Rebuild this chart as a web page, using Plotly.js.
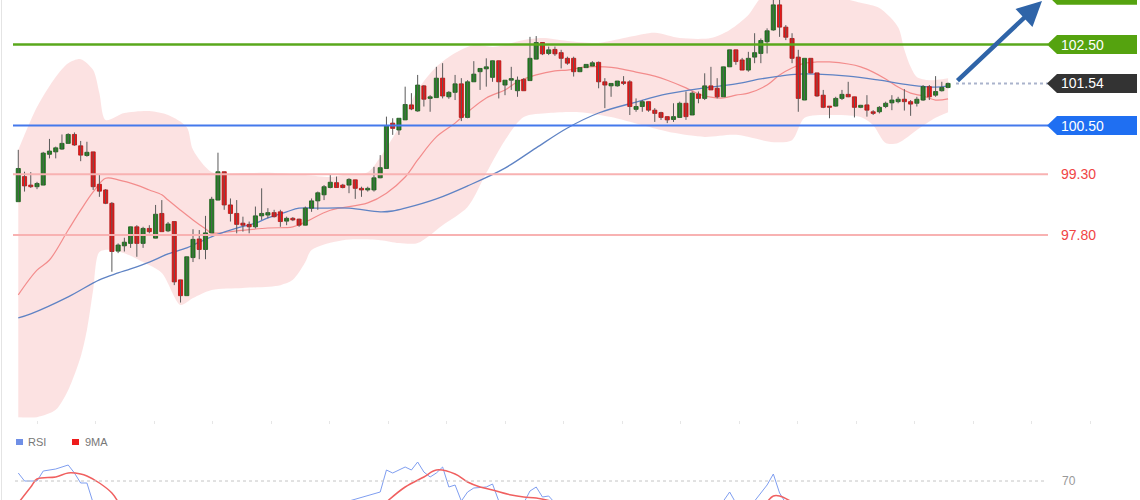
<!DOCTYPE html>
<html><head><meta charset="utf-8">
<script src="https://cdn.plot.ly/plotly-3.0.1.min.js"></script>
<style>html,body{margin:0;padding:0;background:#fff}#chart{width:1140px;height:500px}</style>
</head><body><div id="chart"></div>
<script>
// ---- candle data (price) ----
const openP = [98.62,99.24,99.03,98.99,99.03,99.79,99.85,99.92,100.06,100.28,
100.00,99.76,99.85,99.05,98.91,98.58,97.40,97.53,97.59,98.00,
97.59,97.96,97.72,98.33,97.90,98.13,96.69,96.30,97.24,97.70,
97.44,97.85,98.66,99.36,98.54,98.33,98.09,98.06,98.00,98.27,
98.29,98.35,98.37,98.14,98.21,98.19,98.04,98.46,98.64,98.79,
98.97,99.09,99.03,99.03,99.16,98.95,98.91,98.91,99.21,99.44,
100.56,100.39,100.64,101.01,100.86,101.48,101.17,101.19,101.67,101.21,
101.32,101.53,100.70,101.58,101.83,101.90,101.69,102.10,101.50,101.62,
101.36,101.64,101.61,102.14,102.55,102.28,102.38,102.30,102.16,102.16,
101.83,101.93,101.97,102.06,101.58,101.48,101.48,101.58,101.58,100.90,
100.97,101.09,100.88,100.82,100.72,100.65,100.70,101.05,100.76,101.28,
101.17,101.48,101.42,101.21,101.95,102.37,102.12,101.87,102.19,102.28,
102.57,102.86,103.48,102.93,102.65,102.19,101.13,102.16,101.80,101.25,
100.98,100.98,101.17,101.27,101.21,100.95,101.01,100.84,100.84,100.97,
101.06,101.09,101.15,101.09,101.05,101.13,101.46,101.25,101.36,101.44];
const highP = [99.90,99.36,99.35,99.11,99.85,100.17,99.98,100.28,100.31,100.33,
100.12,100.10,99.85,99.28,98.93,98.61,97.59,97.73,98.00,98.04,
98.00,98.04,98.54,98.66,98.12,98.13,96.69,97.26,97.94,97.92,
98.27,98.74,99.83,99.36,98.70,98.66,98.25,98.13,98.50,98.95,
98.46,98.42,98.42,98.25,98.24,98.20,98.50,98.70,98.87,99.03,
99.28,99.24,99.06,99.20,99.16,98.99,98.99,99.48,99.77,100.72,
100.68,100.68,101.46,101.30,101.75,101.50,101.25,101.95,102.04,101.35,
101.75,101.67,101.62,102.09,101.91,102.16,102.10,102.10,101.62,101.95,
101.71,101.67,102.69,102.71,102.55,102.45,102.45,102.37,102.20,102.20,
101.93,102.01,102.09,102.08,101.67,101.54,101.60,101.72,101.62,101.17,
101.13,101.09,100.93,100.84,100.72,101.05,101.09,101.34,101.34,101.34,
101.79,101.95,101.67,101.95,102.37,102.37,102.17,102.32,102.78,102.65,
102.90,103.66,103.62,102.98,102.78,102.37,102.16,102.16,101.80,101.38,
100.98,101.21,101.38,101.58,101.21,101.01,101.25,100.88,100.98,101.09,
101.25,101.21,101.40,101.13,101.21,101.50,101.50,101.72,101.58,101.56];
const lowP = [98.62,98.87,98.96,98.93,99.03,99.69,99.69,99.90,100.06,100.00,
99.62,99.73,98.91,98.74,98.56,96.89,97.35,97.39,97.48,97.26,
97.48,97.84,97.72,97.88,97.87,96.56,96.13,96.30,97.13,97.20,
97.20,97.85,98.66,98.42,98.13,97.84,97.88,97.84,97.96,98.17,
98.21,98.23,98.00,98.04,98.14,98.00,98.04,98.37,98.42,98.66,
98.95,98.97,98.95,98.83,98.69,98.74,98.87,98.87,99.20,99.44,
100.27,100.27,100.64,100.88,100.84,100.97,100.84,101.19,101.17,101.16,
101.13,100.61,100.68,101.58,101.38,101.46,101.58,101.17,101.25,101.38,
101.21,101.36,101.61,102.14,102.24,102.24,102.22,101.91,102.00,101.71,
101.82,101.92,101.97,101.42,100.93,101.21,101.46,101.50,100.76,100.84,
100.84,100.84,100.59,100.64,100.56,100.59,100.70,100.64,100.76,101.05,
101.13,101.38,101.17,101.21,101.95,102.00,101.87,101.83,102.04,102.04,
102.28,102.84,102.69,102.61,102.04,100.84,101.13,101.79,101.21,100.93,
100.68,100.97,101.13,101.20,100.70,100.93,100.72,100.76,100.80,100.93,
100.88,101.05,100.87,100.74,100.97,101.11,101.13,101.21,101.34,101.42];
const closeP = [99.44,99.01,98.99,99.07,99.82,99.87,99.95,100.06,100.28,100.02,
99.77,99.84,98.99,98.88,98.58,97.39,97.55,97.62,98.00,97.59,
97.96,97.88,98.31,97.88,98.07,96.64,96.30,97.26,97.69,97.44,
97.85,98.68,99.36,98.54,98.33,98.06,98.04,98.00,98.27,98.33,
98.35,98.25,98.13,98.21,98.17,98.04,98.46,98.64,98.84,98.99,
99.10,98.97,98.97,99.17,98.95,98.91,98.95,99.21,99.46,100.50,
100.43,100.68,101.02,100.91,101.50,101.15,101.21,101.67,101.23,101.32,
101.53,100.70,101.58,101.77,101.91,101.95,102.10,101.58,101.62,101.66,
101.62,101.36,102.16,102.55,102.27,102.37,102.27,102.16,102.04,101.83,
101.93,102.01,102.05,101.58,101.50,101.54,101.60,101.54,100.97,100.97,
101.09,100.88,100.80,100.70,100.64,100.72,101.05,100.72,101.30,101.17,
101.48,101.38,101.21,101.95,102.37,102.08,101.87,102.16,102.30,102.60,
102.84,103.48,102.93,102.68,102.16,101.17,102.16,101.80,101.23,100.95,
100.95,101.17,101.27,101.21,100.95,101.00,100.88,100.80,100.95,101.05,
101.13,101.15,101.09,101.03,101.15,101.46,101.21,101.34,101.44,101.54];

// ---- Bollinger bands & moving averages (candle index, price) ----
const bbUpperIdx = [0,3,6,8,10,12,13,14,17,21,24,27,28,31,36,41,46,50,52,56,58,61,64,67,70,73,76,78,81,84,88,93,98,102,106,111,114,117,119,122,125,130,135,138,141,142,143,144,146,149];
const bbUpper = [99.90,100.96,101.70,102.04,102.14,101.87,101.30,100.64,100.81,100.86,100.76,100.46,99.90,99.35,99.33,99.33,99.28,99.23,99.28,99.35,99.72,100.46,101.38,101.95,102.29,102.49,102.44,102.49,102.61,102.66,102.59,102.54,102.69,102.79,102.66,102.66,102.86,103.23,103.65,103.85,103.90,103.72,103.53,103.40,102.93,102.37,101.95,101.70,101.62,101.67];
const bbLowerIdx = [0,3,6,8,10,11,12,13,15,17,20,23,26,28,31,36,42,44,46,47,52,58,61,64,68,72,75,78,81,85,90,95,100,105,110,115,121,124,126,130,135,137,139,141,144,147,149];
const bbLower = [93.30,93.30,93.48,93.97,94.79,95.45,96.44,97.38,97.43,97.35,97.13,96.86,96.07,96.24,96.44,96.49,96.56,96.69,97.13,97.43,97.67,97.67,97.60,97.60,98.04,98.49,99.33,100.14,100.71,100.81,100.83,100.71,100.51,100.32,100.22,100.27,100.09,100.14,100.69,100.76,100.71,100.51,100.07,100.07,100.39,100.69,100.83];
const maRedIdx = [0,3,5,8,10,12,14,16,19,21,23,24,26,28,30,31,35,40,44,46,50,56,59,62,64,67,70,72,75,78,80,83,86,88,91,94,96,99,102,104,107,109,111,113,115,117,120,122,124,126,128,130,133,135,137,139,141,143,145,147,149];
const maRed = [96.32,96.93,97.18,97.92,98.41,98.86,99.20,99.16,99.03,98.91,98.79,98.66,98.41,98.17,97.95,97.85,97.90,97.97,98.00,98.12,98.41,98.59,98.83,99.23,99.65,100.22,100.56,100.83,101.18,101.38,101.58,101.75,101.85,101.87,101.95,101.95,101.92,101.82,101.72,101.62,101.43,101.28,101.20,101.18,101.25,101.30,101.50,101.75,101.92,102.04,102.07,102.07,102.02,101.95,101.82,101.65,101.45,101.30,101.23,101.13,101.16];
const maBlueIdx = [0,2,8,13,16,18,21,24,27,29,32,35,38,40,43,45,48,53,58,60,62,67,72,78,83,88,93,99,104,110,115,119,122,125,128,133,138,143,147,149];
const maBlue = [95.75,95.85,96.27,96.69,96.86,96.96,97.13,97.33,97.48,97.62,97.82,97.97,98.09,98.22,98.37,98.46,98.46,98.46,98.37,98.39,98.46,98.69,99.01,99.45,99.95,100.44,100.81,101.08,101.28,101.43,101.53,101.65,101.72,101.77,101.77,101.72,101.62,101.50,101.45,101.48];

// ---- RSI panel (candle index, value); null = below the visible strip ----
const rsiIdx = [0,1,3,4,6,8,9,10,11,12,13, 52,53,58,59,60,62,63,64,65,66,67,68,69,70,71,72,73,75,76,77,78, 81,82,83,84,85,86,87, 112,113,114,115,116, 117,118,119,120,121,122,123,124];
const rsiVal = [78,70,70,80,82,86,78,68,68,48,null, null,50,59,81,78,84,81,89,79,74,78,84,64,66,50,59,63,64,67,50,null, 48,60,64,54,55,48,null, null,50,59,48,null, null,50,58,66,77,58,48,null];
const ma9Idx = [0,2,3,6,8,10,11,13,15,16,17, 58,59,62,65,67,70,72,74,76,79,81,83,86,87, 119,120,121,122,124,125];
const ma9Val = [48,64,72,74,78,77,75,68,58,49,null, null,49,64,74,81,77,69,64,61,56,54,53,49,null, null,49,55,55,49,null];

// ---- levels ----
const levelValues = [102.50, 101.54, 100.50, 99.30, 97.80];
const levelTexts  = ['102.50', '101.54', '100.50', '99.30', '97.80'];
const hiddenTarget = 103.72;

// ---- helpers ----
const W = 1140, H = 500;
const PX = x => x / W;
const PY = y => 1 - y / H;
const idx = openP.map((_, i) => i);
const up = openP.map((o, i) => closeP[i] >= o);
const bodyBase = openP.map((o, i) => Math.min(o, closeP[i]));
const bodyLen = openP.map((o, i) => Math.max(Math.abs(closeP[i] - o), 0.03));
const PRICE_RANGE = [93.23, 103.60];

const traces = [
  {type:'scatter', mode:'lines', x:bbUpperIdx, y:bbUpper, line:{width:0, shape:'spline', smoothing:0.8}, hoverinfo:'skip'},
  {type:'scatter', mode:'lines', x:bbLowerIdx, y:bbLower, line:{width:0, shape:'spline', smoothing:0.8}, fill:'tonexty', fillcolor:'rgba(249,185,185,0.42)', hoverinfo:'skip'},
  {type:'scatter', mode:'lines', x:maRedIdx, y:maRed, line:{color:'#f38c8c', width:1.2, shape:'spline'}, hoverinfo:'skip'},
  {type:'scatter', mode:'lines', x:maBlueIdx, y:maBlue, line:{color:'#5f83c4', width:1.3, shape:'spline'}, hoverinfo:'skip'},
  {type:'ohlc', x:idx, open:openP, high:highP, low:lowP, close:closeP, tickwidth:0, yaxis:'y3',
   increasing:{line:{color:'#5a5a5a', width:1}}, decreasing:{line:{color:'#5a5a5a', width:1}}, hoverinfo:'skip'},
  {type:'bar', x:idx, base:bodyBase, y:bodyLen, width:0.66, yaxis:'y3',
   marker:{color: up.map(u => u ? '#218421' : '#ec1616'), line:{color: up.map(u => u ? '#175a17' : '#b01010'), width:0.8}}, hoverinfo:'skip'},
  {type:'scatter', mode:'lines', x:rsiIdx, y:rsiVal, yaxis:'y2', line:{color:'#7f9ef0', width:1}, connectgaps:false, hoverinfo:'skip'},
  {type:'scatter', mode:'lines', x:ma9Idx, y:ma9Val, yaxis:'y2', line:{color:'#f06060', width:1.5, shape:'spline'}, connectgaps:false, hoverinfo:'skip'}
];

const shapes = [];
shapes.push({type:'line', xref:'paper', yref:'paper', x0:PX(1.5), x1:PX(1.5), y0:PY(0), y1:PY(500), line:{color:'#e4e4e4', width:1}});
const lvlStyle = [
  {c:'#5aa81c', w:2.5, d:'solid', x0:13},
  {c:'#aab3cc', w:2, d:'dot', x0:956},
  {c:'#4479ec', w:2, d:'solid', x0:13},
  {c:'#f8b2b2', w:2, d:'solid', x0:13},
  {c:'#f8b2b2', w:2, d:'solid', x0:13}
];
levelValues.forEach((v, k) => {
  const s = lvlStyle[k];
  shapes.push({type:'line', xref:'paper', yref:'y', x0:PX(s.x0), x1:PX(1048), y0:v, y1:v, line:{color:s.c, width:s.w, dash:s.d}});
});
const hh = 9.5 / 40.5;
function tag(v, color) {
  return {type:'path', xref:'paper', yref:'y', fillcolor:color, line:{width:0},
    path:`M ${PX(1047)},${v} L ${PX(1057)},${v+hh} L ${PX(1137)},${v+hh} L ${PX(1137)},${v-hh} L ${PX(1057)},${v-hh} Z`};
}
shapes.push(tag(hiddenTarget, '#55a30f'));
shapes.push(tag(levelValues[0], '#55a30f'));
shapes.push(tag(levelValues[1], '#333333'));
shapes.push(tag(levelValues[2], '#1f6ff2'));
shapes.push({type:'line', xref:'paper', yref:'y2', x0:PX(15), x1:PX(1045), y0:70, y1:70, line:{color:'#c4c4c4', width:1, dash:'dot'}});
shapes.push({type:'rect', xref:'paper', yref:'paper', x0:PX(16), x1:PX(23), y0:PY(445), y1:PY(439), fillcolor:'#6f8fe6', line:{width:0}});
shapes.push({type:'rect', xref:'paper', yref:'paper', x0:PX(72), x1:PX(79), y0:PY(445), y1:PY(439), fillcolor:'#ee1c1c', line:{width:0}});

const F = '"Liberation Sans", Arial, sans-serif';
const annotations = [];
const txtColors = ['#ffffff', '#ffffff', '#ffffff', '#f04545', '#f04545'];
levelValues.forEach((v, k) => {
  annotations.push({xref:'paper', yref:'y', x:PX(1059), y:v, text:levelTexts[k], showarrow:false,
    xanchor:'left', yanchor:'middle', font:{family:F, size:14, color:txtColors[k]}});
});
annotations.push({xref:'paper', yref:'y2', x:PX(1060), y:70, text:'70', showarrow:false, xanchor:'left', yanchor:'middle', font:{family:F, size:12, color:'#999'}});
annotations.push({xref:'paper', yref:'paper', x:PX(26), y:PY(442), text:'RSI', showarrow:false, xanchor:'left', yanchor:'middle', font:{family:F, size:11, color:'#777'}});
annotations.push({xref:'paper', yref:'paper', x:PX(83), y:PY(442), text:'9MA', showarrow:false, xanchor:'left', yanchor:'middle', font:{family:F, size:11, color:'#777'}});
annotations.push({xref:'paper', yref:'paper', x:PX(1042), y:PY(1), ax:-86, ay:81, text:'', showarrow:true,
  arrowhead:2, arrowsize:1.1, arrowwidth:4.5, arrowcolor:'#2f64a8'});

const layout = {
  width:W, height:H, margin:{l:0, r:0, t:0, b:0},
  paper_bgcolor:'#ffffff', plot_bgcolor:'rgba(0,0,0,0)',
  showlegend:false, hovermode:false, barmode:'overlay',
  xaxis:{range:[-2.93, 179.76], showgrid:false, zeroline:false, showline:false, showticklabels:false,
    ticks:'outside', ticklen:3, tickcolor:'#e6e6e6', tickmode:'linear', tick0:3, dtick:9.375,
    rangeslider:{visible:false}, fixedrange:true},
  yaxis:{domain:[0.16, 1], range:PRICE_RANGE, showgrid:false, zeroline:false, showline:false, showticklabels:false, ticks:''},
  yaxis3:{overlaying:'y', range:PRICE_RANGE, showgrid:false, zeroline:false, showline:false, showticklabels:false, ticks:''},
  yaxis2:{domain:[0, 0.12], range:[51, 111], showgrid:false, zeroline:false, showline:false, showticklabels:false, ticks:''},
  shapes, annotations
};
Plotly.newPlot('chart', traces, layout, {staticPlot:true, displayModeBar:false});
</script></body></html>
